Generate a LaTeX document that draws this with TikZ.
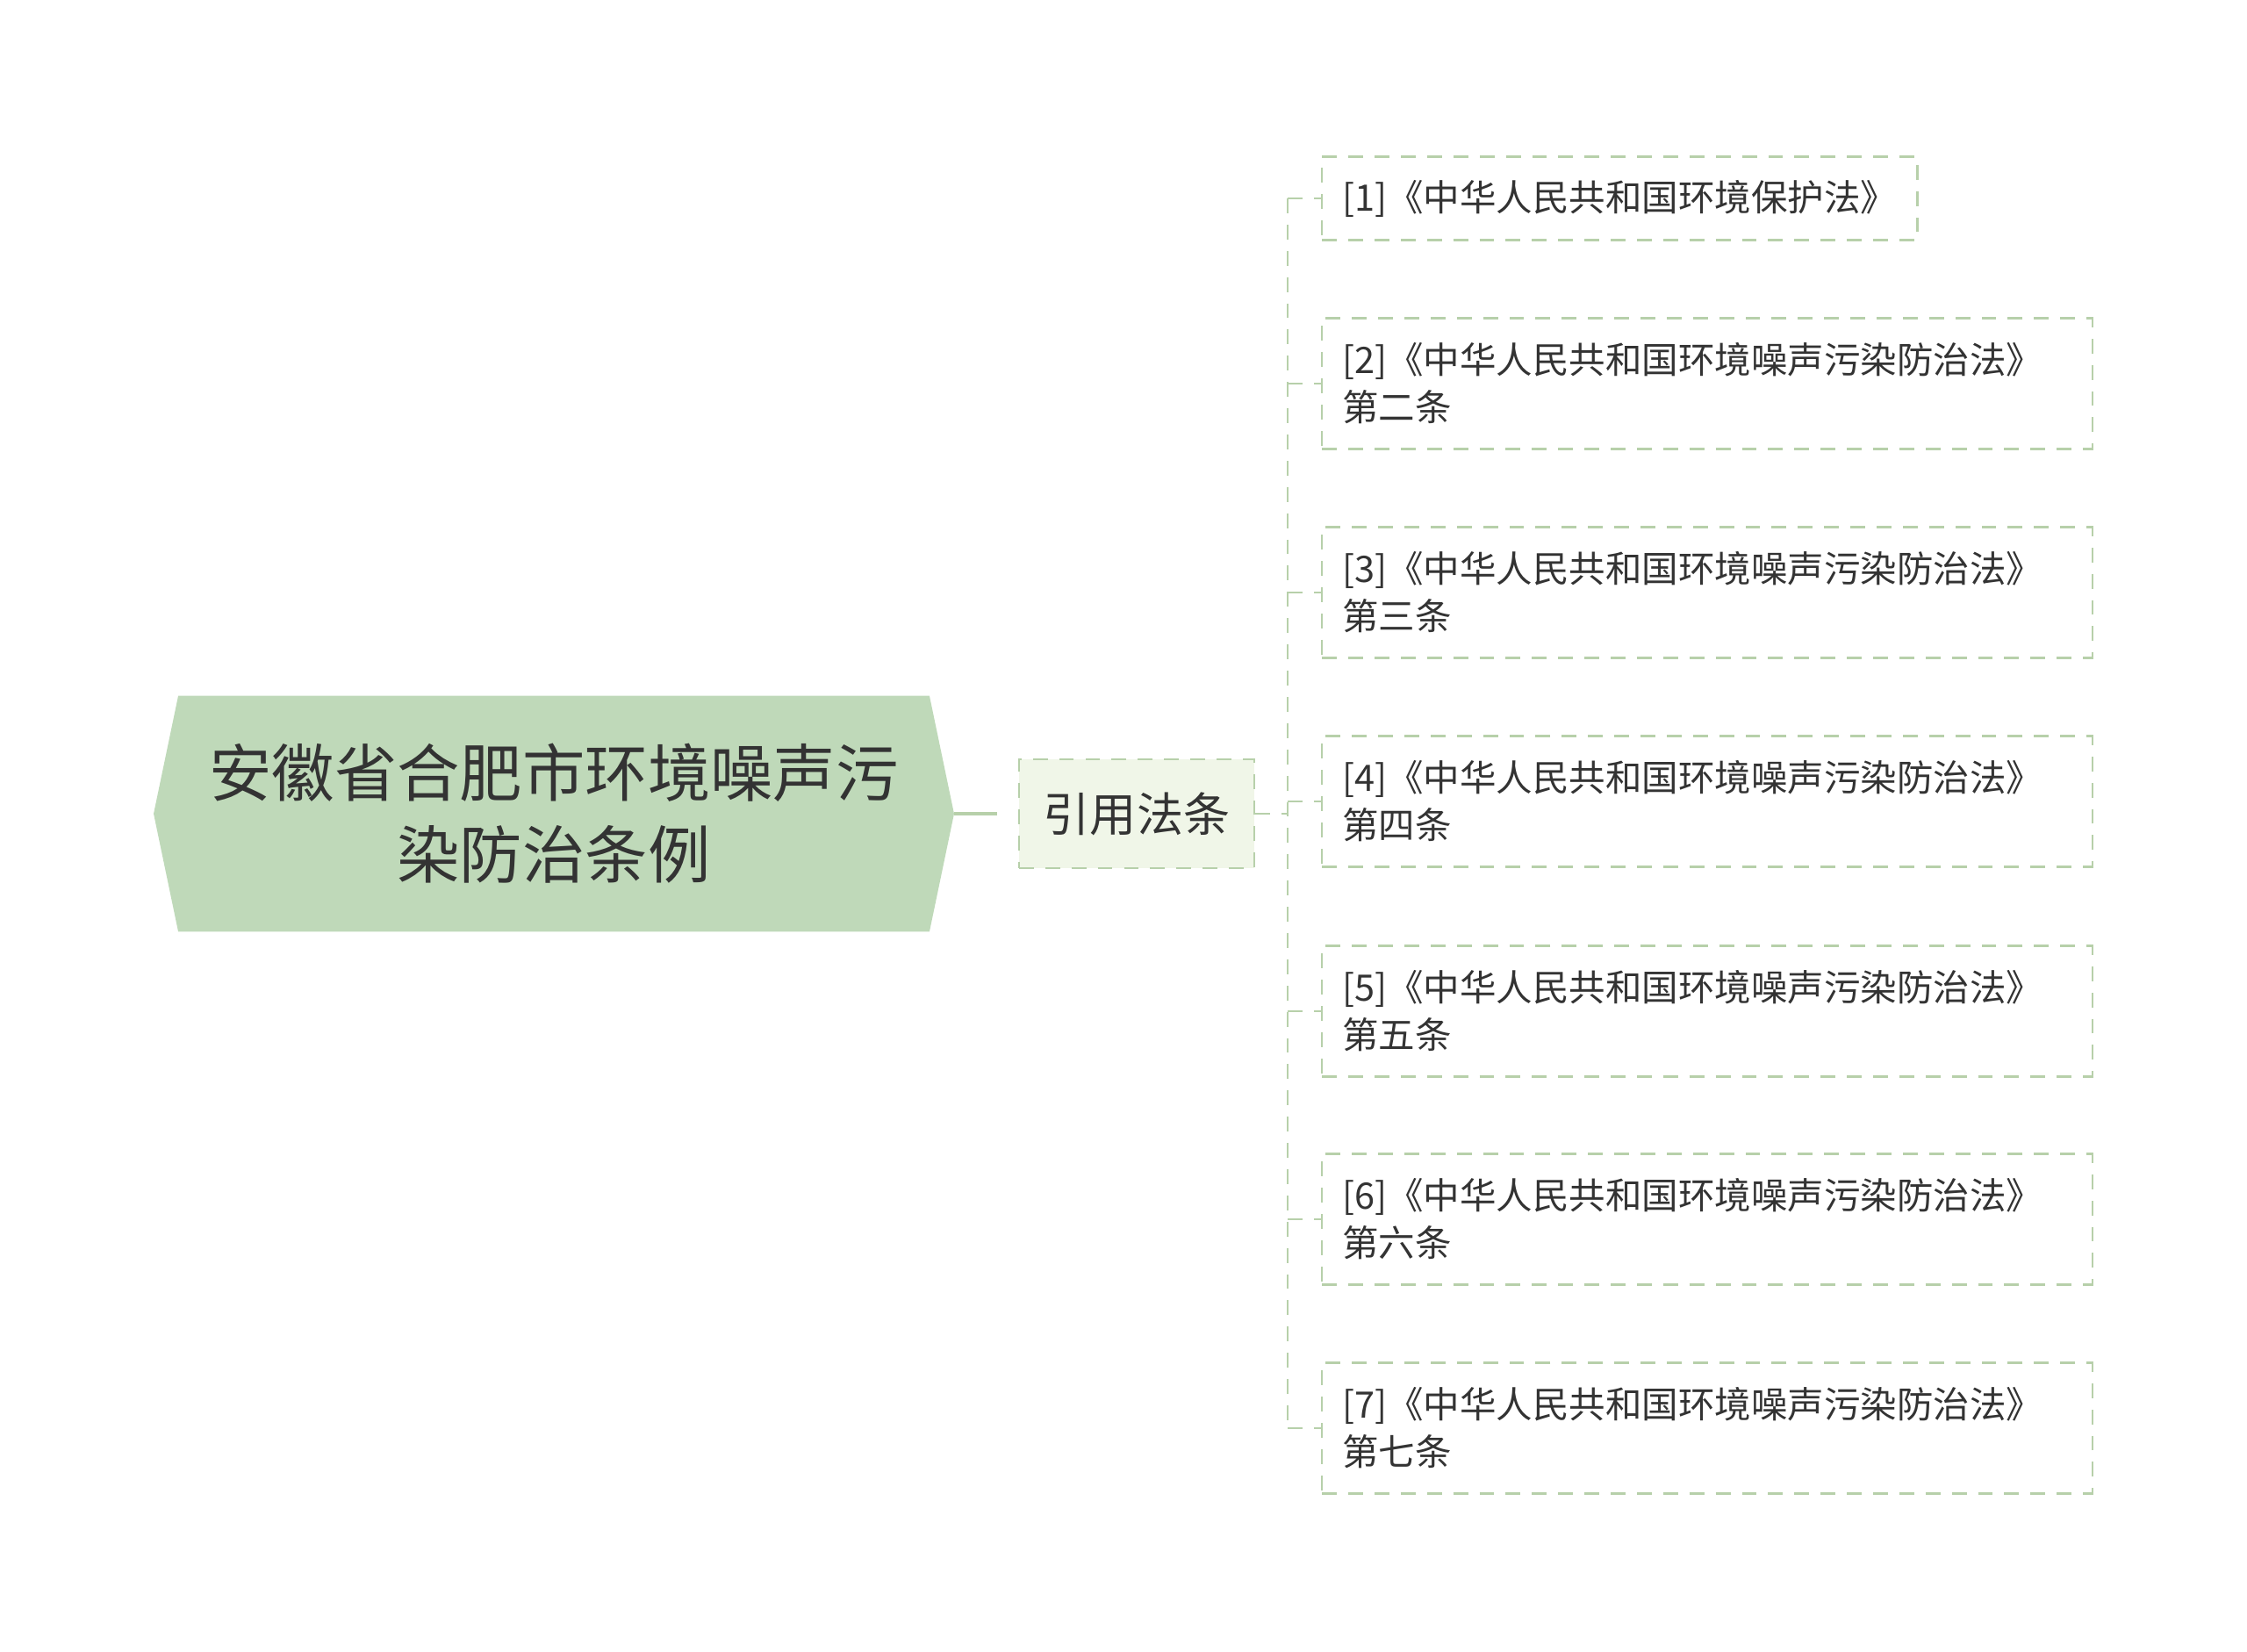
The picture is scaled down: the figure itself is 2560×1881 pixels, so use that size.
\documentclass[tikz,border=0pt]{standalone}
\usepackage{fontspec}
\setmainfont{Noto Sans CJK SC}
\usepackage{tikz}
\usepackage{xcolor}
\usetikzlibrary{backgrounds}
\definecolor{rootgreen}{RGB}{191,217,185}
\definecolor{leafgreen}{RGB}{240,246,232}
\definecolor{linegreen}{RGB}{183,208,170}
\definecolor{inkgray}{RGB}{51,51,51}

\begin{document}
\begin{tikzpicture}[x=0.01cm, y=-0.01cm,
    lawbox/.style={draw=linegreen, line width=0.7pt, dash pattern=on 4.8pt off 3.7pt,
      text=inkgray, font=\fontsize{11.8pt}{15.4pt}\selectfont, align=left,
      inner xsep=0.23cm, minimum height=1.49cm, text width=8.31cm},
    link/.style={draw=linegreen, line width=0.7pt, dash pattern=on 4.8pt off 3.7pt}]
    \useasboundingbox (0,0) rectangle (2560,1881);

    % Root title with its hexagon behind
    \node[text=inkgray, align=center, font=\fontsize{20.3pt}{26.5pt}\selectfont,
      minimum width=9.1cm, minimum height=2.67cm, inner sep=0pt] (root) at (631,927)
      {安徽省合肥市环境噪声污\\染防治条例};
    \begin{scope}[on background layer]
        \fill[rootgreen] (root.west) -- ([xshift=0.28cm]root.north west)
            -- ([xshift=-0.28cm]root.north east) -- (root.east)
            -- ([xshift=-0.28cm]root.south east) -- ([xshift=0.28cm]root.south west) -- cycle;
    \end{scope}

    % Middle node
    \node[draw=linegreen, fill=leafgreen, line width=0.7pt, dash pattern=on 4.8pt off 3.7pt,
      text=inkgray, font=\fontsize{15.1pt}{18pt}\selectfont,
      minimum width=2.68cm, minimum height=1.24cm] (cite) at (1295,927) {引用法条};

    % Link from the root
    \draw[linegreen, line width=1.2pt, shorten >=0.24cm] (root.east) -- (cite.west);
    \coordinate (trunk) at (1467,927);
    \draw[link] (cite.east) -- (trunk);

    % Leaves
    \node[lawbox, text width=6.32cm, minimum height=0.95cm, anchor=west] (law1) at (1505,226)
        {[1]《中华人民共和国环境保护法》};
    \foreach \n/\y/\ord in {2/437/二, 3/675/三, 4/913/四, 5/1152/五, 6/1389/六, 7/1627/七}
        \node[lawbox, anchor=west] (law\n) at (1505,\y)
            {[\n]《中华人民共和国环境噪声污染防治法》\\第{\ord}条};

    % Trunk and branches
    \draw[link] (trunk |- law1.west) -- (trunk |- law7.west);
    \foreach \n in {1,...,7}
        \draw[link] (trunk |- law\n.west) -- (law\n.west);
\end{tikzpicture}
\end{document}
